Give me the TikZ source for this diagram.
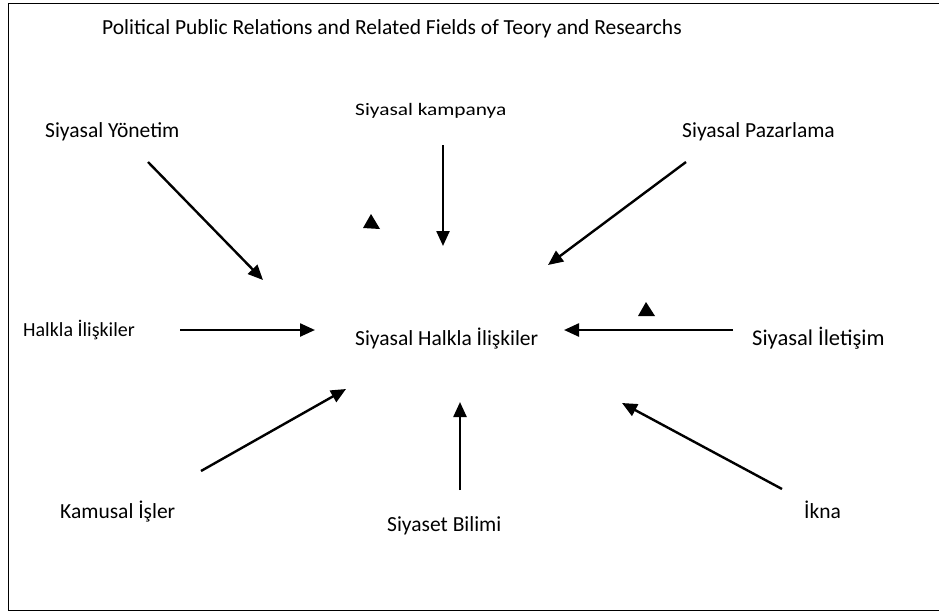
\documentclass[tikz,border=0pt]{standalone}
\usepackage{fontspec}
\setmainfont{Carlito}
\usetikzlibrary{arrows.meta}
\tikzset{
  lbl/.style={inner sep=0pt, anchor=base west, font=\fontsize{21.5}{25}\selectfont},
  smalllbl/.style={inner sep=0pt, anchor=base west, xscale=1.22, font=\fontsize{17.5}{21}\selectfont},
  arr/.style={line width=2.4pt, -{Triangle[length=15pt,width=13pt]}},
  tri/.style={fill=black, draw=none}
}
\begin{document}
\begin{tikzpicture}[x=1pt,y=-1pt]
\useasboundingbox (0,0) rectangle (939,614);
\draw[line width=1.6pt] (945,3.5) -- (8.5,3.5) -- (8.5,610.5) -- (945,610.5);
% texts
\node[lbl] (title) at (102,34) {Political Public Relations and Related Fields of Teory and Researchs};
\node[lbl] (yon) at (45,137) {Siyasal Yönetim};
\node[smalllbl] (kamp) at (355,115) {Siyasal kampanya};
\node[lbl] (paz) at (682,137) {Siyasal Pazarlama};
\node[lbl, font=\fontsize{20}{24}\selectfont] (hil) at (23,336) {Halkla İlişkiler};
\node[lbl] (shi) at (355,345) {Siyasal Halkla İlişkiler};
\node[lbl, font=\fontsize{22.5}{26}\selectfont] (ilet) at (752,345) {Siyasal İletişim};
\node[lbl] (kam) at (60,518) {Kamusal İşler};
\node[lbl] (bil) at (387,531) {Siyaset Bilimi};
\node[lbl] (ikna) at (804,518) {İkna};
% arrow ends
\coordinate (a1s) at (148,162); \coordinate (a1e) at (263,280);
\coordinate (a2s) at (443,145); \coordinate (a2e) at (443,246);
\coordinate (a3s) at (686,162); \coordinate (a3e) at (548,265);
\coordinate (a4s) at (180,330); \coordinate (a4e) at (315,330);
\coordinate (a5s) at (733,330); \coordinate (a5e) at (564,330);
\coordinate (a6s) at (201,471); \coordinate (a6e) at (346,389);
\coordinate (a7s) at (460,490); \coordinate (a7e) at (460,402);
\coordinate (a8s) at (782,489); \coordinate (a8e) at (622,403);
\draw[arr] (a1s) -- (a1e);
\draw[arr] (a2s) -- (a2e);
\draw[arr] (a3s) -- (a3e);
\draw[arr] (a4s) -- (a4e);
\draw[arr] (a5s) -- (a5e);
\draw[arr] (a6s) -- (a6e);
\draw[arr] (a7s) -- (a7e);
\draw[arr] (a8s) -- (a8e);
% stray triangles
\fill[tri] (371,214) -- (380,229) -- (363,228) -- cycle;
\fill[tri] (646,302) -- (655,316) -- (638,316) -- cycle;
\end{tikzpicture}
\end{document}
